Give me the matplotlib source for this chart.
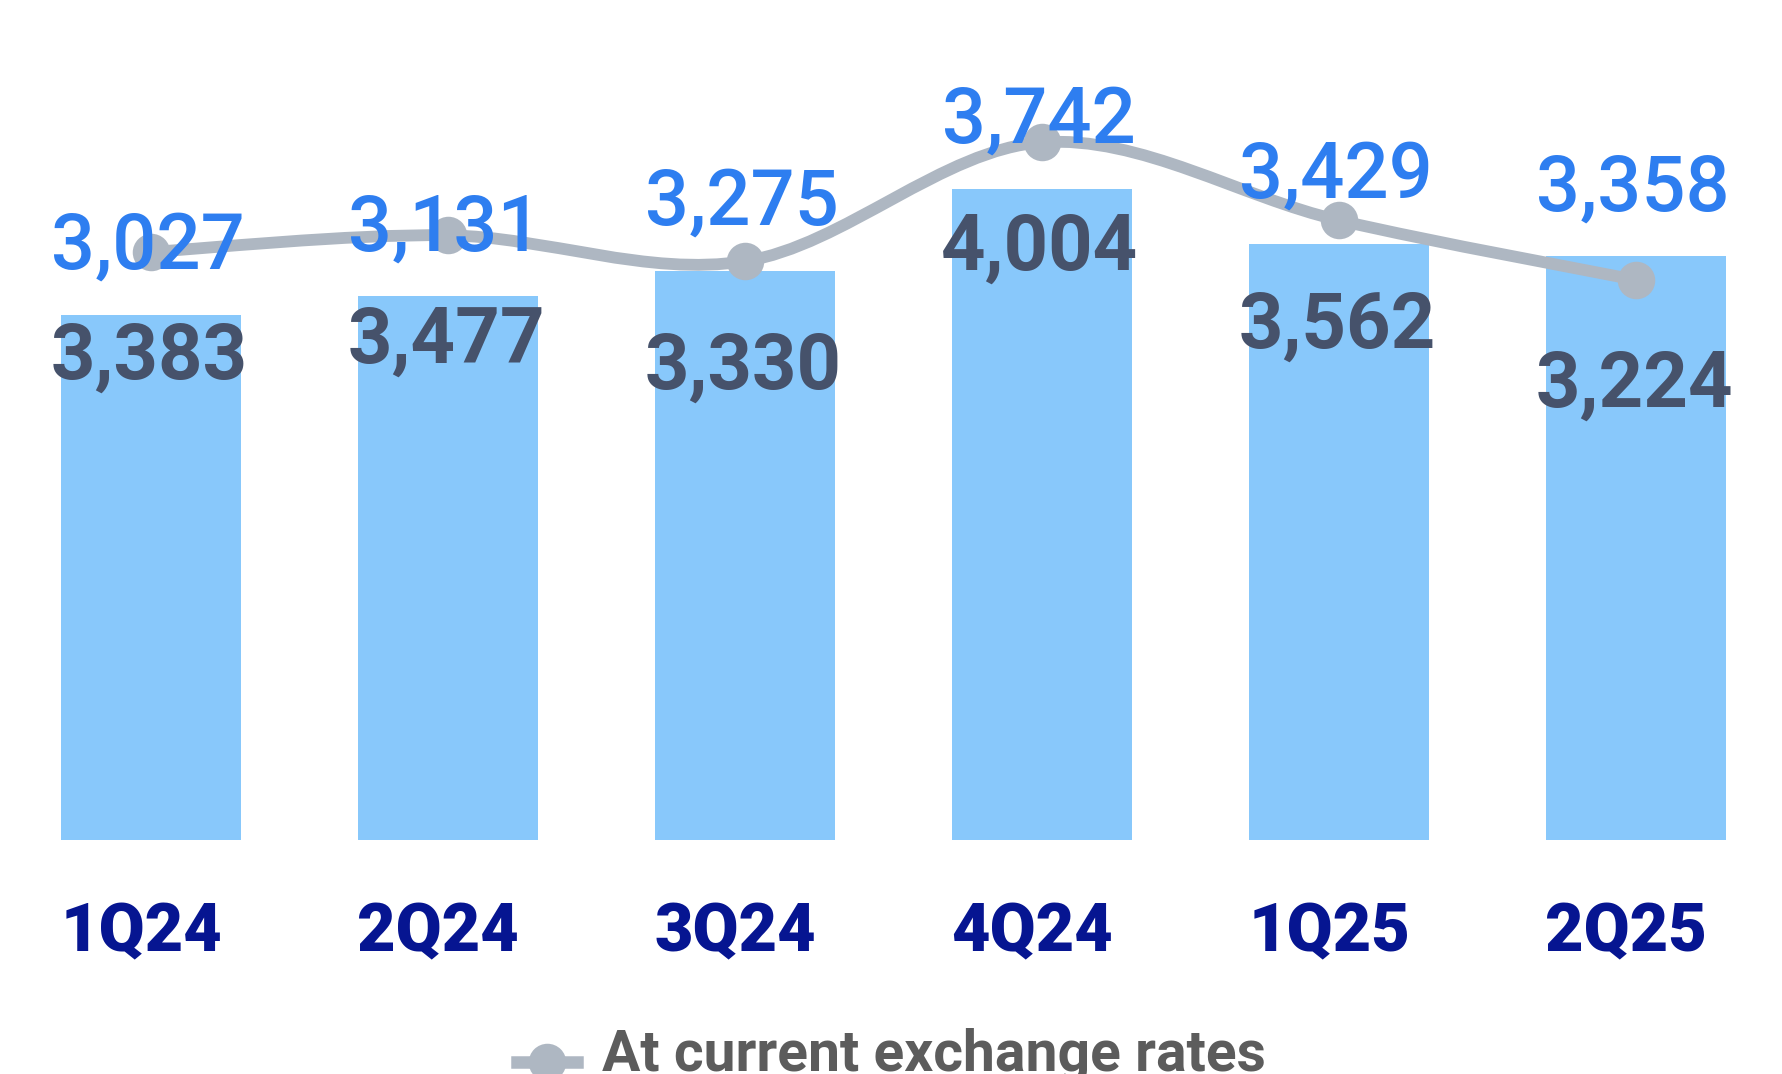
import matplotlib
matplotlib.use("Agg")
import matplotlib.pyplot as plt
from matplotlib.path import Path
from matplotlib.patches import PathPatch
from matplotlib.lines import Line2D

quarters = ["1Q24", "2Q24", "3Q24", "4Q24", "1Q25", "2Q25"]
bar_values = [3027, 3131, 3275, 3742, 3429, 3358]
line_values = [3383, 3477, 3330, 4004, 3562, 3224]
legend_label = "At current exchange rates"

BAR_COLOR = "#88C8FB"
BAR_LABEL_COLOR = "#2E7EF0"
LINE_COLOR = "#AEB7C2"
LINE_LABEL_COLOR = "#46526B"
TICK_COLOR = "#061591"
LEGEND_TEXT_COLOR = "#5C5C5C"


def fmt(v):
    return f"{v:,}"


def smooth_path(xs, ys):
    # Catmull-Rom through the points, written as cubic Bezier segments
    pts = list(zip(xs, ys))
    n = len(pts)
    verts = [pts[0]]
    codes = [Path.MOVETO]
    for i in range(n - 1):
        p0 = pts[i - 1] if i > 0 else pts[i]
        p1 = pts[i]
        p2 = pts[i + 1]
        p3 = pts[i + 2] if i + 2 < n else pts[i + 1]
        c1 = (p1[0] + (p2[0] - p0[0]) / 6, p1[1] + (p2[1] - p0[1]) / 6)
        c2 = (p2[0] - (p3[0] - p1[0]) / 6, p2[1] - (p3[1] - p1[1]) / 6)
        verts += [c1, c2, p2]
        codes += [Path.CURVE4] * 3
    return Path(verts, codes)


W, H = 1782, 1074
fig = plt.figure(figsize=(W / 100, H / 100), dpi=100)
base_px = 840
ax = fig.add_axes([0, (H - base_px) / H, 1, base_px / H])

px_per_unit = 0.1765
zero_px = 849
y_lo = (zero_px - base_px) / px_per_unit
ax.set_ylim(y_lo, y_lo + base_px / px_per_unit)
ax.set_xlim(-151 / 297, (W - 151) / 297)
ax.axis("off")

x = list(range(len(quarters)))
ax.bar(x, bar_values, width=180 / 297, color=BAR_COLOR, zorder=1)

ax.add_patch(PathPatch(smooth_path(x, line_values), facecolor="none",
                       edgecolor=LINE_COLOR, lw=8.5, capstyle="round", zorder=2))
ax.plot(x, line_values, linestyle="none", marker="o", markersize=27,
        color=LINE_COLOR, markeredgewidth=0, zorder=3)

for i, v in enumerate(bar_values):
    ax.annotate(fmt(v), (i, v), xytext=(-3, 46), textcoords="offset pixels",
                ha="center", va="baseline", fontsize=56, family="Roboto",
                fontweight="medium", color=BAR_LABEL_COLOR, zorder=5)

for i, v in enumerate(line_values):
    ax.annotate(fmt(v), (i, v), xytext=(-2, -127), textcoords="offset pixels",
                ha="center", va="baseline", fontsize=56, family="Roboto",
                fontweight="bold", color=LINE_LABEL_COLOR, zorder=5)

for i, q in enumerate(quarters):
    ax.annotate(q, (i, 0), xycoords=("data", "axes fraction"), xytext=(-10, -111),
                textcoords="offset pixels", ha="center", va="baseline",
                fontsize=48, family="Roboto", fontweight="heavy",
                color=TICK_COLOR, annotation_clip=False)

# legend drawn by hand at the bottom edge
ly = (H - 1062) / H
fig.add_artist(Line2D([517 / W, 577 / W], [ly, ly], color=LINE_COLOR, lw=9,
                      transform=fig.transFigure))
fig.add_artist(Line2D([547 / W], [ly], marker="o", markersize=27,
                      markeredgewidth=0, color=LINE_COLOR,
                      transform=fig.transFigure))
fig.text(602 / W, 3 / H, legend_label, ha="left", va="baseline",
         fontsize=41, family="Roboto", fontweight="bold",
         color=LEGEND_TEXT_COLOR)

fig.savefig("out.png", dpi=100, facecolor="white")
